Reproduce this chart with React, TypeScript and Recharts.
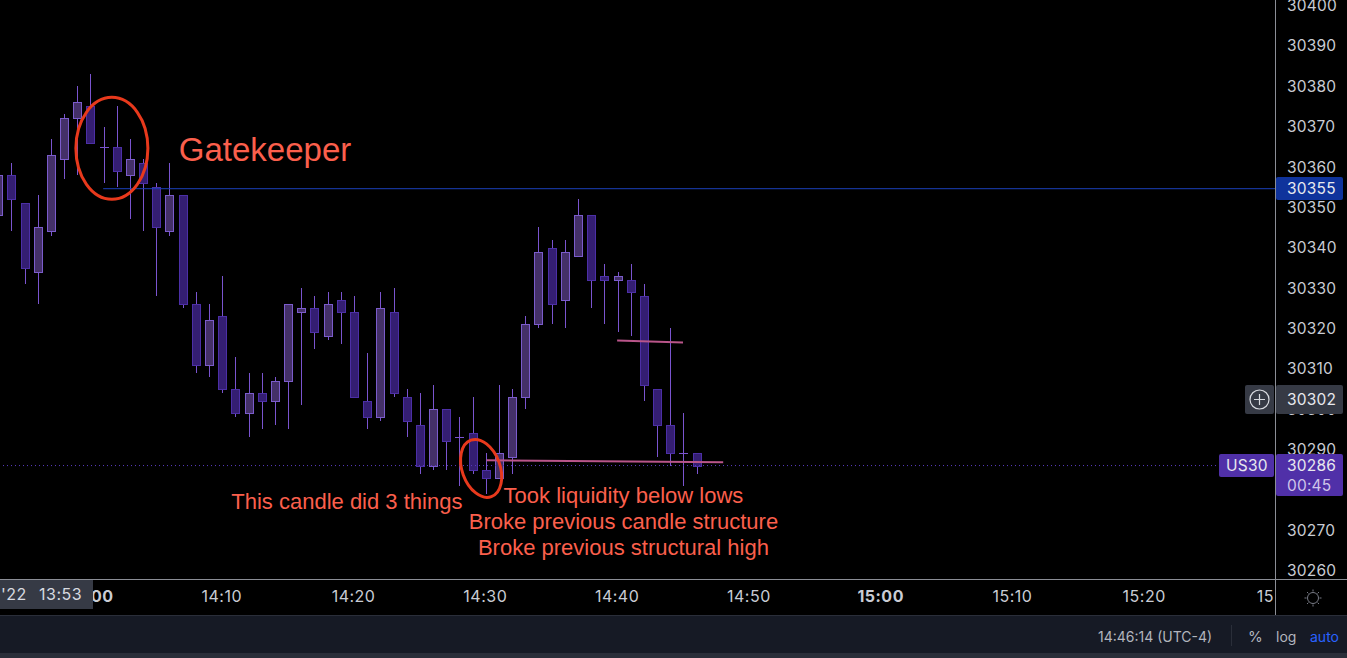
import { ComposedChart, Bar, XAxis, YAxis, ReferenceLine, ReferenceDot } from "recharts";

const minutes = [
  833, 834, 835, 836, 837, 838, 839, 840, 841, 842, 843, 844, 845, 846, 847, 848, 849, 850,
  851, 852, 853, 854, 855, 856, 857, 858, 859, 860, 861, 862, 863, 864, 865, 866, 867, 868,
  869, 870, 871, 872, 873, 874, 875, 876, 877, 878, 879, 880, 881, 882, 883, 884, 885, 886,
];
const opens = [
  30348, 30358, 30351, 30334, 30344, 30362, 30372, 30375, 30365, 30365, 30358, 30361, 30355, 30344, 30353, 30326, 30311, 30323,
  30305, 30299, 30304, 30302, 30307, 30324, 30325, 30318, 30327, 30324, 30302, 30298, 30324, 30303, 30296, 30286, 30300, 30293,
  30294, 30285, 30283, 30288, 30303, 30321, 30340, 30327, 30338, 30348, 30333, 30332, 30332, 30328, 30305, 30296, 30289, 30289,
];
const highs = [
  30358, 30361, 30351, 30353, 30367, 30373, 30380, 30383, 30370, 30375, 30367, 30362, 30356, 30361, 30353, 30329, 30326, 30333,
  30313, 30309, 30309, 30308, 30326, 30330, 30328, 30329, 30329, 30328, 30314, 30329, 30330, 30305, 30304, 30306, 30300, 30298,
  30303, 30289, 30306, 30305, 30323, 30345, 30342, 30342, 30352, 30348, 30336, 30334, 30336, 30331, 30305, 30320, 30299, 30289,
];
const lows = [
  30348, 30344, 30331, 30326, 30343, 30357, 30358, 30366, 30356, 30355, 30347, 30344, 30328, 30343, 30325, 30309, 30308, 30304,
  30298, 30293, 30295, 30296, 30295, 30301, 30315, 30317, 30316, 30303, 30295, 30297, 30303, 30293, 30284, 30285, 30285, 30281,
  30284, 30279, 30283, 30284, 30300, 30320, 30321, 30320, 30338, 30325, 30321, 30319, 30318, 30302, 30288, 30286, 30281, 30284,
];
const closes = [
  30358, 30352, 30335, 30345, 30363, 30372, 30376, 30366, 30365, 30359, 30362, 30356, 30345, 30353, 30326, 30311, 30322, 30305,
  30299, 30304, 30302, 30307, 30326, 30325, 30319, 30326, 30324, 30303, 30298, 30325, 30304, 30297, 30286, 30300, 30292, 30293,
  30285, 30283, 30289, 30303, 30321, 30339, 30326, 30339, 30348, 30332, 30332, 30333, 30329, 30306, 30296, 30289, 30289, 30286,
];

const priceTicks = [30260, 30270, 30280, 30290, 30300, 30310, 30320, 30330, 30340, 30350, 30360, 30370, 30380, 30390, 30400];
const timeTicks = [840, 850, 860, 870, 880, 890, 900, 910, 920, 930];
const timeLabels = ["14:00", "14:10", "14:20", "14:30", "14:40", "14:50", "15:00", "15:10", "15:20", "15"];

const candles = minutes.map((t, i) => ({
  t,
  open: opens[i],
  high: highs[i],
  low: lows[i],
  close: closes[i],
}));

const NOTE = "#fb5f4c";
const AXIS_TEXT = "#c9ccd4";
const LINE = "#8b8e96";
const FONT = "Inter, Roboto, sans-serif";

function Candle(props: any) {
  const { x, y, width, height, payload } = props;
  const { open, high, low, close } = payload;
  const k = height / (high - low);
  const top = Math.round(y + (high - Math.max(open, close)) * k) + 0.5;
  const bottom = Math.round(y + (high - Math.min(open, close)) * k) + 0.5;
  const cx = Math.round(x + width / 2) + 0.5;
  const up = close >= open;
  const border = up ? "#7b5ccb" : "#4c2fa6";
  const fill = up ? "#443068" : "#341e72";
  return (
    <g shapeRendering="crispEdges">
      <line x1={cx} x2={cx} y1={y} y2={y + height} stroke="#7a54cf" strokeWidth={1} />
      {open === close ? (
        <line x1={cx - 4.5} x2={cx + 4.5} y1={top} y2={top} stroke="#7a54cf" strokeWidth={1} />
      ) : (
        <rect x={cx - 4} y={top} width={8} height={bottom - top} fill={fill} stroke={border} strokeWidth={1} />
      )}
    </g>
  );
}

function PriceTick(props: any) {
  const { y, payload } = props;
  return (
    <text x={1287} y={y} dy={5.6} fontSize={15.5} letterSpacing={0.2} fontFamily={FONT} fill={AXIS_TEXT}>
      {payload.value}
    </text>
  );
}

function TimeTick(props: any) {
  const { x, payload, index } = props;
  const label = timeLabels[index];
  const onHour = payload.value % 60 === 0;
  return (
    <text
      x={label === "15" ? x - 2 : x}
      y={602}
      textAnchor={label === "15" ? "end" : "middle"}
      fontSize={16}
      letterSpacing={0.5}
      fontWeight={onHour ? 700 : 400}
      fontFamily={FONT}
      fill={AXIS_TEXT}
    >
      {label}
    </text>
  );
}

function note(text: string, size: number, anchor: string) {
  return (props: any) => (
    <text
      x={props.cx}
      y={props.cy}
      dy={size * 0.36}
      textAnchor={anchor as any}
      fontSize={size}
      fontFamily="'Liberation Sans', Arial, sans-serif"
      fill={NOTE}
    >
      {text}
    </text>
  );
}

function ring(rx: number, ry: number, angle: number) {
  return (props: any) => (
    <ellipse
      cx={props.cx}
      cy={props.cy}
      rx={rx}
      ry={ry}
      fill="none"
      stroke="#e8391c"
      strokeWidth={3}
      transform={`rotate(${angle} ${props.cx} ${props.cy})`}
    />
  );
}

function Tag({ left, top, width, height, bg, children }: any) {
  return (
    <div
      style={{
        position: "absolute",
        left,
        top,
        width,
        height,
        background: bg,
        borderRadius: 2,
        color: "#e8e9ee",
        fontSize: 15.5,
        letterSpacing: 0.2,
        lineHeight: "23px",
        paddingLeft: 11,
        boxSizing: "border-box",
      }}
    >
      {children}
    </div>
  );
}

export default function App() {
  return (
    <div style={{ position: "fixed", left: 0, top: 0, width: 1347, height: 658, background: "#000", overflow: "hidden", fontFamily: FONT }}>
      <ComposedChart
        width={1347}
        height={615}
        data={candles}
        margin={{ top: 0, right: 0, bottom: 0, left: 0 }}
        barSize={8}
      >
        <XAxis
          dataKey="t"
          type="number"
          domain={[833.17, 930]}
          allowDataOverflow
          ticks={timeTicks}
          interval={0}
          height={35.5}
          axisLine={false}
          tickLine={false}
          tick={<TimeTick />}
        />
        <YAxis
          orientation="right"
          type="number"
          domain={[30257.771, 30401.355]}
          allowDataOverflow
          ticks={priceTicks}
          interval={0}
          width={71}
          axisLine={false}
          tickLine={false}
          tick={<PriceTick />}
        />
        <ReferenceLine y={30286} stroke="#5a3cc0" strokeDasharray="1 3" />
        <ReferenceLine
          segment={[
            { x: 841, y: 30354.6 },
            { x: 930, y: 30354.6 },
          ]}
          stroke="#1b3fb8"
        />
        <Bar dataKey={(d: any) => [d.low, d.high]} shape={<Candle />} isAnimationActive={false} />
        <ReferenceLine
          segment={[
            { x: 880, y: 30317 },
            { x: 885, y: 30316.5 },
          ]}
          stroke="#b9558a"
          strokeWidth={2}
        />
        <ReferenceLine
          segment={[
            { x: 870.1, y: 30287.3 },
            { x: 888.05, y: 30286.8 },
          ]}
          stroke="#b9558a"
          strokeWidth={2}
        />
        <ReferenceDot x={841.66} y={30364.6} shape={ring(36, 51, 0)} />
        <ReferenceDot x={869.68} y={30285.3} shape={ring(19, 30, -20)} />
        <ReferenceDot x={846.74} y={30364.3} shape={note("Gatekeeper", 33, "start")} />
        <ReferenceDot x={850.72} y={30277.1} shape={note("This candle did 3 things", 22, "start")} />
        <ReferenceDot x={880.48} y={30278.6} shape={note("Took liquidity below lows", 22, "middle")} />
        <ReferenceDot x={880.48} y={30272.2} shape={note("Broke previous candle structure", 22, "middle")} />
        <ReferenceDot x={880.48} y={30265.8} shape={note("Broke previous structural high", 22, "middle")} />
      </ComposedChart>

      {/* axis frame */}
      <div style={{ position: "absolute", left: 1275, top: 0, width: 1, height: 615, background: LINE }} />
      <div style={{ position: "absolute", left: 0, top: 579, width: 1347, height: 1, background: LINE }} />

      {/* price tags */}
      <Tag left={1276} top={177} width={67} height={23} bg="#0f339c">
        30355
      </Tag>
      <div style={{ position: "absolute", left: 1245, top: 385, width: 29, height: 29, background: "#363a45", borderRadius: 2 }}>
        <svg width={29} height={29} style={{ display: "block" }}>
          <circle cx={14.5} cy={14.5} r={9.5} fill="none" stroke="#d8dae0" strokeWidth={1.2} />
          <path d="M14.5 9v11M9 14.5h11" stroke="#d8dae0" strokeWidth={1.2} />
        </svg>
      </div>
      <Tag left={1276} top={385} width={67} height={29} bg="#363a45">
        <div style={{ lineHeight: "30px" }}>30302</div>
      </Tag>
      <Tag left={1219} top={454} width={55} height={23} bg="#5030a8">
        <div style={{ lineHeight: "24px", marginLeft: -4 }}>US30</div>
      </Tag>
      <Tag left={1276} top={454} width={67} height={42} bg="#5030a8">
        <div style={{ lineHeight: "23px" }}>30286</div>
        <div style={{ lineHeight: "17px", color: "#cfc6ea" }}>00:45</div>
      </Tag>

      {/* crosshair time */}
      <div style={{ position: "absolute", left: 0, top: 580, width: 93, height: 29, background: "#363a45", color: "#d8dae0", fontSize: 16, letterSpacing: 0.5, lineHeight: "29px" }}>
        <span style={{ position: "absolute", left: 1 }}>'22</span>
        <span style={{ position: "absolute", left: 39 }}>13:53</span>
      </div>

      {/* settings icon */}
      <svg width={20} height={20} style={{ position: "absolute", left: 1303, top: 588 }}>
        <circle cx={10} cy={10} r={5.5} fill="none" stroke="#787b86" />
        <path d="M10 1.5v2M10 16.5v2M1.5 10h2M16.5 10h2M4 4l1.4 1.4M14.6 14.6L16 16M4 16l1.4-1.4M14.6 5.4L16 4" stroke="#787b86" />
      </svg>

      {/* status bar */}
      <div style={{ position: "absolute", left: 0, top: 615, width: 1347, height: 38, background: "#161a25", borderTop: "1px solid #2a2e39", boxSizing: "border-box", fontSize: 14, color: "#b2b5be", lineHeight: "41px" }}>
        <span style={{ position: "absolute", left: 1098 }}>14:46:14 (UTC-4)</span>
        <div style={{ position: "absolute", left: 1231, top: 9, width: 1, height: 21, background: "#2a2e39" }} />
        <span style={{ position: "absolute", left: 1248, fontSize: 15 }}>%</span>
        <span style={{ position: "absolute", left: 1276 }}>log</span>
        <span style={{ position: "absolute", left: 1310, color: "#2962ff" }}>auto</span>
      </div>
      <div style={{ position: "absolute", left: 0, top: 653, width: 1347, height: 5, background: "#2a2e39" }} />
    </div>
  );
}
